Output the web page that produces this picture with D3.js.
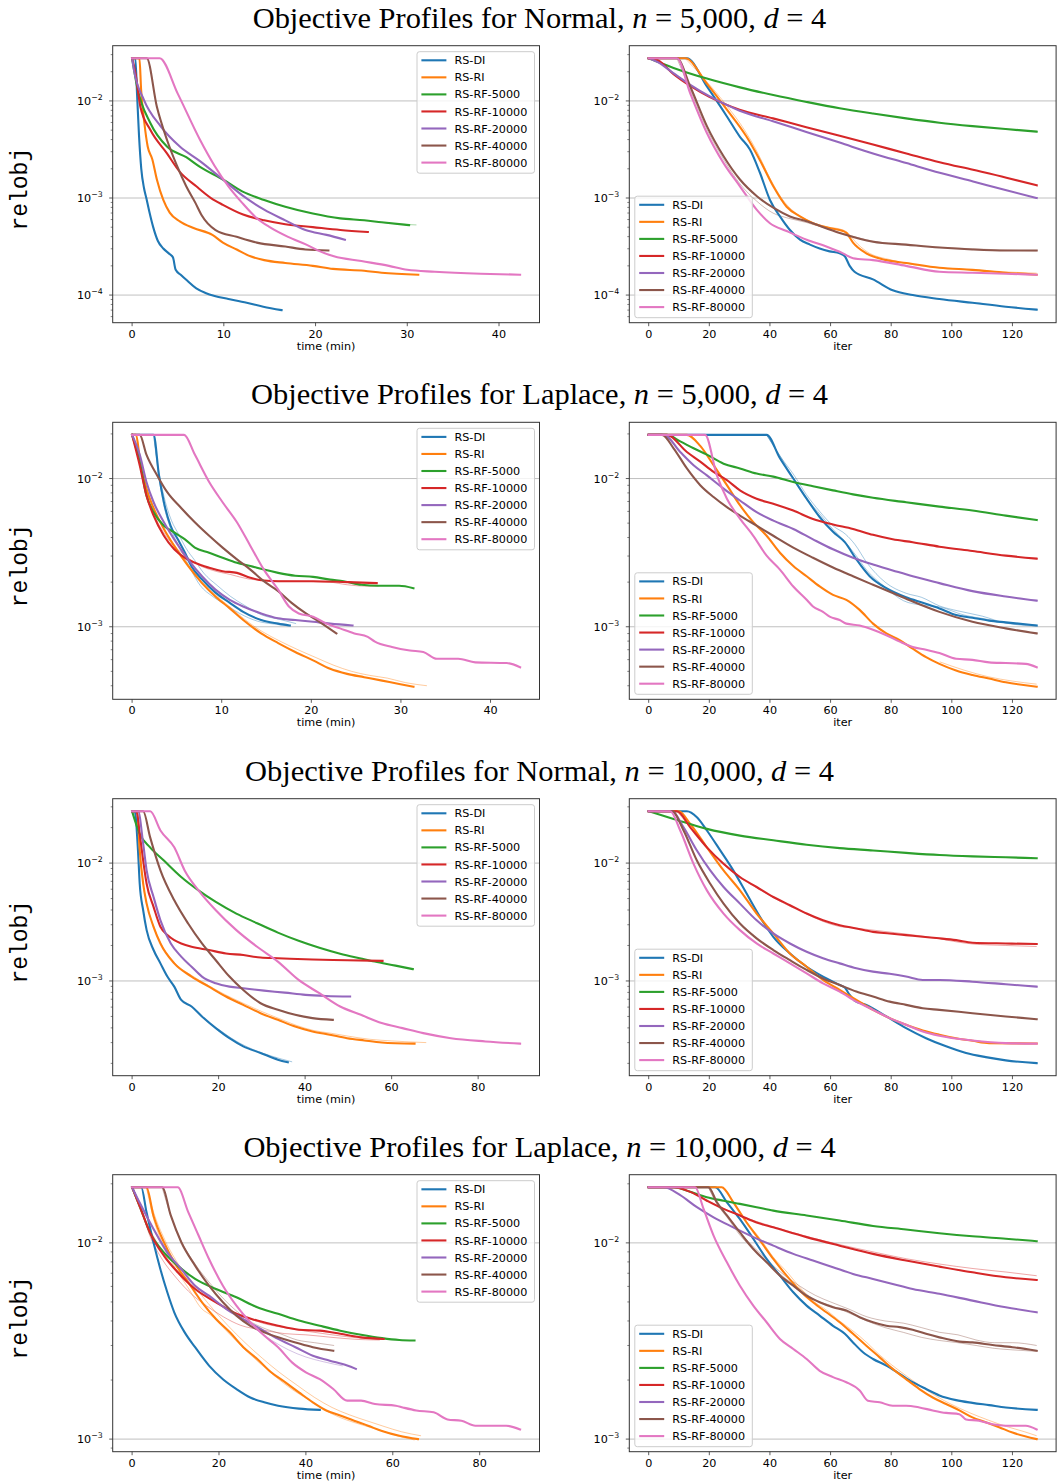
<!DOCTYPE html>
<html>
<head>
<meta charset="utf-8">
<script src="https://cdn.jsdelivr.net/npm/d3@7"></script>
<style>
  body { margin: 0; background: #fff; }
  svg { display: block; }
</style>
</head>
<body>
<svg id="fig" width="1057" height="1484"></svg>
<script>
// ---------------------------------------------------------------------------
// Series, labels and ticks
// ---------------------------------------------------------------------------
const seriesNames = ["RS-DI", "RS-RI", "RS-RF-5000", "RS-RF-10000", "RS-RF-20000", "RS-RF-40000", "RS-RF-80000"];
const seriesColors = ["#1f77b4", "#ff7f0e", "#2ca02c", "#d62728", "#9467bd", "#8c564b", "#e377c2"];
const distributions = ["Normal", "Laplace", "Normal", "Laplace"];
const sampleSizes = ["5,000", "5,000", "10,000", "10,000"];
const dimension = "4";
const timeTicks = [[0, 10, 20, 30, 40], [0, 10, 20, 30, 40], [0, 20, 40, 60, 80], [0, 20, 40, 60, 80]];
const iterTicks = [0, 20, 40, 60, 80, 100, 120];

// Each panel: one averaged [x, relobj] list per series, in the order of seriesNames.
// x is wall-clock time in minutes (…Time) or the iteration count (…Iter).

const normal5kTime = [
  [[0,0.0275],[0.35,0.0275],[0.55,0.0112],[0.75,0.00447],[1.0,0.002],[1.3,0.00126],[1.55,0.001],[1.9,0.000708],[2.3,0.000501],[2.8,0.000363],[3.4,0.000302],[4.0,0.000269],[4.45,0.000245],[4.75,0.000182],[5.3,0.000162],[6.0,0.000141],[7.0,0.000117],[8.0,0.000105],[9.0,0.0000977],[10.5,0.0000912],[12.5,0.0000832],[14.3,0.0000759],[16.3,0.00007]],
  [[0,0.0275],[0.8,0.0275],[0.98,0.0132],[1.34,0.00589],[1.7,0.00339],[2.2,0.00251],[2.7,0.00155],[3.4,0.000955],[4.1,0.000708],[5.2,0.000575],[6.7,0.00049],[8.75,0.000417],[9.9,0.000347],[11.4,0.000295],[12.9,0.000251],[14.4,0.000229],[16.7,0.000214],[19.7,0.0002],[21.9,0.000186],[25.3,0.000178],[27.2,0.00017],[31.2,0.000162]],
  [[0,0.0275],[0.54,0.0141],[2.0,0.00589],[3.8,0.00339],[5.9,0.00263],[7.4,0.00209],[9.9,0.00155],[12,0.00117],[14.4,0.000955],[16.7,0.000813],[19.7,0.000692],[22.7,0.000617],[25.3,0.000589],[27.2,0.000562],[30.2,0.000525]],
  [[0,0.0275],[0.36,0.0195],[0.9,0.0087],[2.0,0.00501],[3.8,0.00288],[5.2,0.00186],[7.0,0.00132],[8.6,0.001],[9.9,0.000851],[12.1,0.000676],[14.4,0.000589],[16.7,0.000537],[19.7,0.000501],[22.7,0.000468],[25.7,0.000447]],
  [[0,0.0275],[0.2,0.0209],[1.3,0.0102],[3.1,0.0055],[5.2,0.00339],[7.4,0.0024],[9.9,0.00155],[12.1,0.00105],[14.4,0.000759],[16.7,0.000589],[18.9,0.000468],[21.2,0.000417],[23.2,0.000372]],
  [[0,0.0275],[1.6,0.0275],[2.7,0.0087],[3.8,0.00398],[4.9,0.00214],[5.9,0.00132],[6.9,0.000891],[7.6,0.000661],[9.1,0.000468],[11.4,0.000398],[13.6,0.000347],[16.7,0.000316],[18.9,0.000295],[21.4,0.000288]],
  [[0,0.0275],[3.0,0.0275],[5,0.01175],[7.4,0.00398],[9,0.00214],[10.5,0.00132],[12,0.000891],[13.5,0.000631],[15,0.000501],[17,0.000398],[19,0.000331],[20.5,0.000282],[22,0.000251],[25,0.000224],[28,0.0002],[30,0.000182],[33,0.000174],[38,0.000166],[42.3,0.000162]]
];

const normal5kIter = [
  [[0,0.0275],[12.6,0.0275],[19.2,0.0141],[25.8,0.00692],[30.1,0.00427],[33.4,0.00316],[36.7,0.00182],[40,0.000955],[43.3,0.000646],[46.6,0.000468],[49.9,0.000372],[53.2,0.000331],[56.4,0.000302],[59.7,0.000282],[63,0.000269],[64.7,0.000251],[66.3,0.0002],[67.9,0.000174],[74,0.000145],[80.5,0.000112],[87.1,0.0001],[95.9,0.0000912],[106.8,0.0000832],[117.8,0.0000759],[128,0.0000708]],
  [[0,0.0275],[12,0.0275],[19.2,0.0151],[25.8,0.00813],[32.3,0.00427],[36.7,0.00245],[41.1,0.00132],[45.5,0.000813],[49.9,0.000646],[54.2,0.00055],[59.7,0.00049],[64.1,0.000457],[65.2,0.000437],[67.4,0.000347],[71.8,0.000269],[78.4,0.000229],[85,0.000214],[95.9,0.000191],[106.8,0.000182],[117.8,0.00017],[128,0.000162]],
  [[0,0.0275],[8.2,0.0219],[19.2,0.017],[30.1,0.0138],[41.1,0.0115],[52.1,0.00977],[63,0.00841],[74,0.00741],[84.9,0.00661],[95.9,0.00596],[106.8,0.0055],[117.8,0.00513],[128,0.00483]],
  [[0,0.0275],[3,0.0263],[8,0.0191],[14,0.0141],[20,0.011],[25,0.00933],[30,0.00813],[41,0.00661],[52,0.00537],[63,0.00437],[74,0.00355],[85,0.00288],[96,0.00234],[107,0.00195],[118,0.00162],[128,0.00135]],
  [[0,0.0275],[3,0.0251],[8,0.0195],[14,0.0145],[20,0.0112],[25,0.00933],[30,0.00794],[41,0.00617],[52,0.00479],[63,0.00372],[74,0.00288],[85,0.00229],[96,0.00182],[107,0.00148],[118,0.0012],[128,0.001]],
  [[0,0.0275],[9.3,0.0275],[13.7,0.0141],[19.2,0.0055],[24.7,0.00269],[30.1,0.00155],[35.6,0.00105],[41.1,0.000794],[46.6,0.000646],[52.1,0.000575],[63,0.000437],[74,0.000355],[84.9,0.000331],[95.9,0.000309],[106.8,0.000295],[117.8,0.000288],[128,0.000288]],
  [[0,0.0275],[9.3,0.0275],[13.7,0.012],[19.2,0.00468],[24.7,0.00229],[30.1,0.00132],[35.6,0.000759],[40,0.00055],[45.5,0.000457],[52.1,0.000372],[58.6,0.000316],[64.1,0.000269],[67.4,0.00024],[74,0.000229],[84.9,0.0002],[95.9,0.000174],[106.8,0.00017],[117.8,0.000166],[128,0.000162]]
];

const laplace5kTime = [
  [[0,0.0197],[2.4,0.0197],[3.0,0.0105],[3.55,0.00692],[4.3,0.00479],[5.1,0.00389],[5.9,0.00316],[6.6,0.00257],[7.8,0.00209],[9.3,0.0017],[10.9,0.00145],[12.4,0.00126],[14.4,0.00111],[16.3,0.00105],[17.6,0.00102]],
  [[0,0.0197],[0.45,0.0197],[0.85,0.0137],[1.6,0.00855],[2.4,0.00631],[3.55,0.00457],[4.7,0.00351],[6.25,0.00257],[7.8,0.00197],[9.3,0.0016],[10.9,0.00133],[12.4,0.00111],[14.4,0.000902],[16.3,0.000776],[18.2,0.000676],[20.2,0.000593],[22.1,0.00052],[24,0.000481],[25.9,0.000457],[27.9,0.000433],[29.8,0.000411],[31.4,0.000394]],
  [[0,0.0197],[0.85,0.013],[1.6,0.00769],[2.4,0.00593],[3.55,0.00481],[4.7,0.00433],[5.9,0.00389],[7.0,0.00342],[8.6,0.00316],[10.1,0.00292],[11.7,0.0027],[13.2,0.00257],[14.7,0.00243],[16.3,0.00231],[18.2,0.00221],[20.2,0.00217],[22.1,0.00208],[23.6,0.00203],[25.6,0.00192],[27.5,0.00189],[29.8,0.00189],[31.4,0.00182]],
  [[0,0.0197],[0.85,0.0123],[1.6,0.00769],[2.4,0.00562],[3.55,0.00411],[4.7,0.00333],[5.9,0.00292],[7.0,0.0027],[8.6,0.0025],[10.1,0.00237],[11.7,0.00231],[13.2,0.00214],[14.7,0.00205],[16.3,0.00203],[20.2,0.00203],[24,0.002],[27.3,0.00197]],
  [[0,0.0197],[0.85,0.0145],[1.6,0.00948],[2.4,0.00692],[3.55,0.00507],[4.7,0.00389],[6.25,0.00285],[7.8,0.00219],[9.3,0.00178],[10.9,0.00152],[12.4,0.00137],[14.4,0.00123],[16.3,0.00114],[18.2,0.00111],[20.2,0.00108],[22.1,0.00105],[24.6,0.00102]],
  [[0,0.0197],[0.85,0.0197],[1.6,0.0145],[2.8,0.0105],[3.9,0.00813],[5.5,0.00631],[7.0,0.00507],[8.6,0.00411],[10.1,0.00342],[11.7,0.00285],[13.2,0.00243],[14.7,0.00203],[16.3,0.00174],[17.8,0.00145],[19.4,0.00123],[20.9,0.00108],[22.8,0.000902]],
  [[0,0.0197],[5.8,0.0197],[7.0,0.0145],[8.6,0.00948],[10.1,0.00692],[11.7,0.00507],[13.2,0.00351],[14.7,0.00243],[16.3,0.00178],[17.5,0.00137],[18.6,0.00123],[20.2,0.00117],[21.7,0.00105],[23.2,0.000975],[24.8,0.000902],[26.3,0.000855],[27.1,0.000794],[29,0.000731],[31,0.000692],[32.5,0.000676],[34,0.000608],[36.4,0.000608],[38.3,0.000575],[41.8,0.000569],[43.3,0.000533]]
];

const laplace5kIter = [
  [[0,0.0197],[38.9,0.0197],[43.3,0.0137],[47.7,0.01],[52.1,0.00731],[56.4,0.0055],[60.8,0.00437],[64.7,0.00372],[68.5,0.00285],[72.9,0.00219],[78.4,0.00182],[84.9,0.00158],[90.4,0.00145],[95.9,0.00133],[101.4,0.0012],[106.8,0.00115],[112.3,0.0011],[117.8,0.00107],[128,0.00102]],
  [[0,0.0197],[12.6,0.0197],[17,0.0166],[21.4,0.0123],[25.8,0.00902],[30.1,0.00661],[34.5,0.00507],[38.9,0.00411],[43.3,0.00316],[47.7,0.00257],[52.1,0.00219],[56.4,0.00187],[60.8,0.00164],[65.2,0.00152],[69.6,0.0013],[74,0.00105],[78.4,0.000902],[82.8,0.000813],[87.1,0.000711],[91.5,0.000624],[95.9,0.000562],[101.4,0.000507],[106.8,0.000473],[112.3,0.000447],[117.8,0.000422],[128,0.000394]],
  [[0,0.0197],[6,0.0197],[10.4,0.0178],[14.8,0.016],[19.2,0.0145],[24.7,0.0126],[30.1,0.0117],[35.6,0.0108],[41.1,0.0103],[47.7,0.00948],[54.2,0.00887],[60.8,0.00832],[67.4,0.00782],[74,0.00741],[84.9,0.00692],[95.9,0.00646],[106.8,0.00608],[117.8,0.00562],[128,0.00525]],
  [[0,0.0197],[6,0.0197],[12.6,0.0151],[17,0.013],[21.4,0.0111],[25.8,0.00975],[30.1,0.00832],[35.6,0.00731],[41.1,0.00676],[47.7,0.00608],[54.2,0.00533],[60.8,0.0049],[67.4,0.00457],[74,0.00417],[80.5,0.00389],[87.1,0.00372],[95.9,0.00347],[106.8,0.00324],[117.8,0.00302],[128,0.00288]],
  [[0,0.0197],[5,0.0197],[10.4,0.0151],[14.8,0.0123],[19.2,0.0105],[24.7,0.00855],[30.1,0.00711],[35.6,0.00593],[41.1,0.0052],[47.7,0.00457],[54.2,0.00389],[60.8,0.00333],[67.4,0.00292],[74,0.00263],[80.5,0.0024],[87.1,0.00219],[95.9,0.00197],[106.8,0.00174],[117.8,0.0016],[128,0.0015]],
  [[0,0.0197],[4.4,0.0197],[8.2,0.016],[12.6,0.0117],[17,0.00902],[21.4,0.0075],[25.8,0.00641],[30.1,0.00562],[35.6,0.00481],[41.1,0.00411],[47.7,0.00342],[54.2,0.00292],[60.8,0.00251],[67.4,0.00219],[74,0.00192],[80.5,0.00169],[87.1,0.00148],[95.9,0.00126],[106.8,0.00108],[117.8,0.000975],[128,0.000902]],
  [[0,0.0197],[18.6,0.0197],[22.5,0.0105],[25.8,0.00731],[30.1,0.00537],[34.5,0.00411],[38.9,0.00302],[43.3,0.00243],[47.7,0.00187],[52.1,0.00152],[54.2,0.00137],[57.5,0.00126],[59.7,0.00117],[63,0.00111],[65.2,0.00105],[69.6,0.00102],[74,0.000955],[78.4,0.000877],[82.8,0.000794],[87.1,0.000731],[91.5,0.0007],[95.9,0.000665],[101.4,0.000608],[106.8,0.000598],[112.3,0.000575],[117.8,0.000569],[124.4,0.000562],[128,0.000533]]
];

const normal10kTime = [
  [[0,0.0275],[0.6,0.0275],[1.36,0.0128],[1.76,0.00668],[2.56,0.00398],[3.36,0.0027],[4.96,0.00183],[6.55,0.00141],[8.15,0.00109],[9.75,0.000895],[11.35,0.00069],[13.75,0.000607],[16.15,0.0005],[19.35,0.000398],[22.5,0.000327],[25.7,0.000279],[29.7,0.000245],[33.7,0.000215],[36,0.000204]],
  [[0,0.0275],[1.2,0.0275],[1.76,0.0128],[2.56,0.00668],[3.36,0.00453],[4.96,0.00288],[6.55,0.00208],[9.75,0.00141],[13.75,0.00109],[17.75,0.000895],[21.7,0.000738],[25.7,0.000627],[29.7,0.000533],[33.7,0.000468],[37.7,0.000411],[41.7,0.000373],[45.7,0.00035],[49.7,0.000327],[53.7,0.000313],[57.7,0.000301],[65.3,0.000294]],
  [[0,0.0275],[1.76,0.0177],[4.16,0.0136],[7.35,0.0105],[11.35,0.00762],[15.35,0.00587],[19.35,0.00468],[24.1,0.00373],[28.9,0.00309],[33.7,0.00257],[38.5,0.00219],[43.3,0.00191],[48.1,0.0017],[52.9,0.00155],[56.1,0.00146],[60.9,0.00135],[64.9,0.00126]],
  [[0,0.0275],[1.0,0.0275],[1.76,0.0177],[2.56,0.0105],[3.36,0.00668],[4.96,0.00425],[6.55,0.00288],[8.15,0.00245],[9.75,0.00222],[11.35,0.00208],[13.75,0.00195],[17.75,0.00183],[21.7,0.00171],[25.7,0.00166],[29.7,0.00158],[33.7,0.00156],[41.7,0.00152],[49.7,0.0015],[57.9,0.00148]],
  [[0,0.0275],[1.4,0.0275],[2.56,0.0146],[3.36,0.00867],[4.96,0.00516],[6.55,0.00327],[8.95,0.00208],[11.35,0.00161],[13.75,0.00132],[16.15,0.00109],[19.35,0.000955],[22.5,0.000895],[25.7,0.000867],[30.5,0.000828],[35.3,0.000796],[40.1,0.000762],[44.9,0.000746],[50.4,0.000738]],
  [[0,0.0275],[2.56,0.0275],[4.16,0.0166],[6.55,0.00867],[9.75,0.00483],[12.95,0.00307],[16.15,0.00208],[19.35,0.0015],[22.5,0.00109],[25.7,0.000839],[29.7,0.000647],[33.7,0.000569],[37.7,0.000516],[41.7,0.000484],[46.4,0.000468]],
  [[0,0.0275],[4.2,0.0275],[6.55,0.0189],[9.75,0.0136],[12.15,0.00867],[15.35,0.00587],[19.35,0.00398],[24.1,0.0027],[28.9,0.00195],[33.7,0.00146],[38.5,0.00102],[43.3,0.000787],[48.1,0.000607],[52.9,0.000516],[57.7,0.000439],[62.5,0.000398],[67.3,0.000361],[73.7,0.000327],[81.7,0.000307],[89.7,0.000294]]
];

const normal10kIter = [
  [[0,0.0275],[12.6,0.0275],[15.9,0.0245],[19.2,0.0189],[23.6,0.0128],[27.9,0.00867],[32.3,0.00551],[36.7,0.0035],[41.1,0.00237],[46.6,0.00171],[52.1,0.00132],[57.5,0.00109],[63,0.000925],[64.7,0.000879],[66.3,0.000762],[67.9,0.000682],[71.8,0.000627],[78.4,0.0005],[84.9,0.000398],[91.5,0.000327],[98.1,0.000279],[104.7,0.000245],[111.2,0.000226],[117.8,0.000212],[128,0.000201]],
  [[0,0.0275],[9.9,0.0275],[13.7,0.0215],[19.2,0.0136],[24.7,0.00867],[30.1,0.00587],[35.6,0.00373],[41.1,0.00253],[46.6,0.00171],[52.1,0.00132],[57.5,0.00102],[63,0.000839],[68.5,0.00069],[74,0.000569],[79.5,0.000484],[84.9,0.000425],[90.4,0.00038],[95.9,0.00035],[101.4,0.000327],[106.8,0.000311],[112.3,0.000297],[128,0.000295]],
  [[0,0.0275],[8.2,0.0237],[19.2,0.0195],[30.1,0.0171],[41.1,0.0156],[52.1,0.0143],[63,0.0134],[74,0.0128],[84.9,0.0122],[95.9,0.0117],[106.8,0.0114],[117.8,0.0112],[128,0.011]],
  [[0,0.0275],[9.3,0.0275],[13.7,0.0201],[19.2,0.0136],[24.7,0.00986],[30.1,0.00762],[35.6,0.00627],[41.1,0.00516],[46.6,0.00439],[52.1,0.00373],[57.5,0.00327],[63,0.00297],[68.5,0.00279],[74,0.00261],[79.5,0.00253],[84.9,0.00245],[90.4,0.00237],[95.9,0.0023],[101.4,0.00222],[106.8,0.00211],[117.8,0.00208],[128,0.00206]],
  [[0,0.0275],[7.7,0.0275],[11.5,0.0201],[15.9,0.0128],[20.3,0.00867],[24.7,0.00627],[30.1,0.00453],[35.6,0.00327],[41.1,0.00253],[46.6,0.00208],[52.1,0.00177],[57.5,0.00156],[63,0.00141],[68.5,0.00128],[74,0.0012],[79.5,0.00115],[84.9,0.00109],[90.4,0.00102],[95.9,0.00102],[106.8,0.000986],[117.8,0.000938],[128,0.000895]],
  [[0,0.0275],[7.7,0.0275],[11.5,0.0189],[15.9,0.0105],[20.3,0.00668],[24.7,0.00453],[30.1,0.00307],[35.6,0.0023],[41.1,0.00183],[46.6,0.0015],[52.1,0.00124],[57.5,0.00105],[63,0.000925],[68.5,0.000813],[74,0.000738],[79.5,0.000668],[84.9,0.000627],[90.4,0.000587],[95.9,0.000569],[106.8,0.000533],[117.8,0.0005],[128,0.000474]],
  [[0,0.0275],[7.1,0.0275],[10.4,0.0189],[14.8,0.00986],[19.2,0.00587],[24.7,0.00373],[30.1,0.0027],[35.6,0.00208],[41.1,0.00171],[46.6,0.00141],[52.1,0.00116],[57.5,0.000955],[63,0.000813],[68.5,0.000668],[74,0.000569],[79.5,0.000484],[84.9,0.000425],[90.4,0.000373],[95.9,0.000343],[106.8,0.000313],[117.8,0.000297],[128,0.000294]]
];

const laplace10kTime = [
  [[0,0.0192],[2.1,0.0192],[3.3,0.0144],[4.9,0.0101],[6.5,0.00736],[8.1,0.0056],[9.7,0.00443],[12.1,0.0035],[14.5,0.00294],[17.7,0.00237],[20.9,0.00202],[24,0.0018],[27.2,0.00163],[30.4,0.00154],[33.6,0.00148],[38.4,0.00143],[43.2,0.00141]],
  [[0,0.0192],[3.3,0.0192],[4.9,0.0138],[7.3,0.0101],[9.7,0.00796],[12.9,0.0063],[16.1,0.00498],[19.3,0.00409],[22.5,0.0035],[25.6,0.00294],[28.8,0.00256],[32,0.00219],[35.2,0.00195],[38.4,0.00173],[41.6,0.00154],[44.7,0.0014],[47.9,0.00132],[51.1,0.00124],[54.3,0.00117],[57.5,0.0011],[61.5,0.00104],[65.8,0.001]],
  [[0,0.0192],[1.75,0.0154],[4.1,0.0113],[7.3,0.00895],[10.5,0.00766],[14.5,0.00655],[19.3,0.00582],[24,0.00528],[28.8,0.0047],[33.6,0.00435],[38.4,0.00402],[43.2,0.00378],[47.9,0.00357],[52.7,0.0034],[57.5,0.00327],[61.5,0.0032],[65,0.00318]],
  [[0,0.0192],[1.75,0.0154],[4.1,0.0113],[7.3,0.00861],[10.5,0.00708],[14.5,0.00582],[19.3,0.00498],[24,0.00435],[28.8,0.00402],[33.6,0.00378],[38.4,0.00361],[43.2,0.00357],[47.9,0.00344],[52.7,0.0033],[57.9,0.00324]],
  [[0,0.0192],[1.75,0.016],[4.9,0.0118],[8.1,0.00895],[11.3,0.00736],[14.5,0.00605],[17.7,0.00538],[21.7,0.0046],[25.6,0.00409],[29.6,0.00364],[33.6,0.00324],[37.6,0.00294],[41.6,0.00266],[45.5,0.00251],[49.5,0.00237],[51.5,0.00228]],
  [[0,0.0192],[6.9,0.0192],[8.9,0.0138],[11.3,0.0101],[14.5,0.00766],[17.7,0.00605],[20.9,0.00498],[24,0.00426],[27.2,0.00378],[30.4,0.0035],[33.6,0.0033],[37.6,0.00311],[41.6,0.00294],[46.3,0.00282]],
  [[0,0.0192],[10.5,0.0192],[12.9,0.0144],[15.3,0.0109],[17.7,0.00828],[20.9,0.00605],[24,0.00479],[27.2,0.00394],[30.4,0.00337],[33.6,0.00294],[36.8,0.00246],[40,0.00219],[43.2,0.00202],[46.3,0.0018],[49.5,0.00157],[52.7,0.00157],[55.9,0.00151],[60.7,0.00148],[62.3,0.00145],[65.4,0.0014],[69.4,0.00137],[72.6,0.00126],[75.8,0.00124],[79,0.00117],[86.1,0.00117],[89.3,0.00112]]
];

const laplace10kIter = [
  [[0,0.0192],[21.9,0.0192],[25.8,0.0161],[30.1,0.0132],[34.5,0.0105],[38.9,0.00828],[43.3,0.00681],[47.7,0.0056],[52.1,0.00479],[56.4,0.00426],[60.8,0.00378],[64.7,0.00344],[67.4,0.00311],[70.7,0.00277],[74,0.00256],[78.4,0.00237],[82.8,0.00215],[87.1,0.00195],[91.5,0.0018],[95.9,0.00167],[101.4,0.00158],[106.8,0.00153],[112.3,0.00149],[117.8,0.00145],[128,0.00141]],
  [[0,0.0192],[24.1,0.0192],[27.9,0.0161],[32.3,0.0127],[36.7,0.0103],[41.1,0.00828],[45.5,0.00681],[49.9,0.00571],[54.2,0.00498],[58.6,0.00443],[63,0.00394],[67.4,0.00344],[71.8,0.00299],[76.2,0.00261],[80.5,0.00228],[84.9,0.00202],[89.3,0.0018],[93.7,0.00163],[98.1,0.00151],[102.5,0.0014],[106.8,0.00129],[111.2,0.00122],[115.6,0.00115],[120,0.00108],[128,0.001]],
  [[0,0.0192],[8.2,0.0192],[13.7,0.0182],[19.2,0.0171],[24.7,0.0164],[30.1,0.0158],[35.6,0.0152],[41.1,0.0146],[52.1,0.0138],[63,0.013],[74,0.0122],[84.9,0.0117],[95.9,0.0112],[106.8,0.0108],[117.8,0.0105],[128,0.0102]],
  [[0,0.0192],[8.2,0.0192],[13.7,0.0182],[19.2,0.0164],[24.7,0.0149],[30.1,0.0138],[35.6,0.0127],[41.1,0.012],[52.1,0.0107],[63,0.00968],[74,0.00879],[84.9,0.00813],[95.9,0.00757],[106.8,0.00708],[117.8,0.00668],[128,0.00647]],
  [[0,0.0192],[4.9,0.0192],[10.4,0.0175],[15.9,0.0152],[21.4,0.0135],[27.9,0.012],[34.5,0.0107],[41.1,0.00968],[47.7,0.00879],[54.2,0.00813],[60.8,0.00752],[67.4,0.00695],[74,0.00655],[80.5,0.00618],[87.1,0.00582],[95.9,0.0055],[106.8,0.00508],[117.8,0.0047],[128,0.00443]],
  [[0,0.0192],[19.7,0.0192],[22.5,0.0161],[25.8,0.0138],[30.1,0.0113],[34.5,0.00931],[38.9,0.00796],[43.3,0.00681],[47.7,0.00605],[52.1,0.00538],[56.4,0.00498],[60.8,0.0047],[65.2,0.00452],[69.6,0.00418],[74,0.00394],[78.4,0.00378],[82.8,0.00372],[87.1,0.00361],[91.5,0.00344],[95.9,0.0033],[102.5,0.00314],[106.8,0.00311],[113.4,0.00302],[120,0.00294],[128,0.00282]],
  [[0,0.0192],[15.3,0.0192],[18.1,0.0149],[21.4,0.0109],[25.8,0.00796],[30.1,0.00605],[34.5,0.00479],[38.9,0.00394],[43.3,0.00324],[47.7,0.00288],[52.1,0.00256],[56.4,0.00223],[60.8,0.00207],[65.2,0.00195],[69.6,0.00177],[72.3,0.00157],[76.2,0.00154],[80.5,0.00148],[84.9,0.00148],[89.3,0.00145],[93.7,0.0014],[98.1,0.00136],[102.5,0.00134],[104.7,0.00126],[109,0.00124],[113.4,0.00119],[117.8,0.00117],[124.4,0.00117],[128,0.00112]]
];

// Individual repetitions that stray visibly from their average: [series index, points].
const normal5kTimeRuns = [
  [2, [[27.2,0.000562],[29,0.00054],[31,0.000528]]]
];
const normal5kIterRuns = [
  [1, [[12,0.0275],[19,0.016],[25.8,0.0089],[32,0.0048],[36,0.0029],[40,0.0016],[44,0.00098],[48,0.00072],[52,0.0006],[58,0.00051],[64,0.00047],[66,0.00043],[68,0.00036],[72,0.00028],[80,0.00023],[90,0.0002],[100,0.000188],[110,0.000178],[120,0.000172],[128,0.000168]]],
  [5, [[9.3,0.0275],[13.7,0.013],[19.2,0.0051],[24.7,0.0025],[30.1,0.0014],[35.6,0.00093],[41,0.0007],[46,0.00062],[52,0.00056],[63,0.00044],[74,0.00036],[85,0.00033],[96,0.00031],[107,0.0003],[118,0.00029],[128,0.000285]]]
];
const laplace5kTimeRuns = [
  [0, [[2.4,0.0197],[3,0.011],[3.6,0.0074],[4.4,0.0052],[5.2,0.0042],[6,0.0034],[7,0.0028],[8,0.0023],[9.5,0.0019],[11,0.0016],[12.5,0.0014],[14.5,0.0012],[16.5,0.00112],[18.3,0.00105]]],
  [0, [[2.4,0.0197],[3,0.0102],[3.5,0.0068],[4.3,0.0046],[5,0.0037],[5.8,0.003],[6.6,0.0024],[7.6,0.0019],[9,0.0016],[10.5,0.0014],[12,0.00123],[14,0.00109],[16,0.00104],[17.6,0.00101]]],
  [1, [[0.45,0.0197],[0.9,0.0133],[1.7,0.0083],[2.5,0.0061],[3.6,0.0045],[4.8,0.0035],[6.3,0.0026],[8,0.00195],[9.5,0.0016],[11,0.00135],[12.5,0.00113],[14.5,0.00093],[16.5,0.0008],[18.5,0.0007],[20.5,0.00062],[22.5,0.00055],[24.5,0.0005],[26.5,0.00047],[28.5,0.00045],[30.5,0.00042],[32.9,0.0004]]],
  [3, [[0,0.0197],[0.85,0.0125],[1.6,0.0079],[2.4,0.0058],[3.55,0.0043],[4.7,0.0035],[6,0.003],[7.5,0.0026],[9,0.0024],[11,0.00225],[13,0.0021],[15,0.00205],[18,0.00203],[22,0.002],[24,0.00192],[26,0.00188],[27.5,0.00188]]]
];
const laplace5kIterRuns = [
  [0, [[38.9,0.0197],[43.3,0.0142],[48,0.0105],[52,0.0078],[56.4,0.006],[60.8,0.0048],[65,0.0042],[68,0.0036],[72,0.0027],[78,0.002],[85,0.00168],[90,0.00158],[96,0.00138],[102,0.00128],[110,0.00118],[118,0.00106],[128,0.00103]]],
  [0, [[38.9,0.0197],[44,0.0135],[48,0.0098],[52,0.0074],[57,0.0056],[61,0.0045],[64,0.0039],[68,0.0031],[72,0.0024],[78,0.00185],[84,0.0015],[90,0.0014],[96,0.00136],[104,0.0012],[112,0.00112],[120,0.00104],[128,0.00101]]],
  [1, [[96,0.00058],[104,0.00051],[112,0.00046],[120,0.00043],[128,0.00041]]]
];
const normal10kTimeRuns = [
  [1, [[1.2,0.0275],[1.8,0.0125],[2.6,0.0066],[3.4,0.0045],[5,0.0029],[6.6,0.0021],[9.8,0.00143],[14,0.0011],[18,0.0009],[22,0.00075],[26,0.00064],[30,0.00055],[34,0.00048],[38,0.00042],[42,0.00038],[46,0.00036],[50,0.00034],[55,0.00032],[60,0.00031],[68,0.0003]]],
  [0, [[20,0.00039],[24,0.00031],[28,0.000262],[32,0.000232],[37,0.000206]]]
];
const normal10kIterRuns = [
  [3, [[9.3,0.0275],[14,0.0198],[19.2,0.0134],[24.7,0.0097],[30.1,0.0075],[35.6,0.0062],[41.1,0.0051],[46.6,0.0043],[52.1,0.0037],[57.5,0.0032],[63,0.0029],[68.5,0.0028],[74,0.0027],[79.5,0.0026],[84.9,0.0025],[90.4,0.0024],[95.9,0.00228],[101.4,0.00215],[106.8,0.00206],[117.8,0.002],[128,0.00196]]]
];
const laplace10kTimeRuns = [
  [1, [[3.3,0.0192],[4.9,0.0134],[7.3,0.0096],[9.7,0.0076],[12.9,0.0059],[16.1,0.0046],[18,0.0043],[21,0.0037],[25,0.003],[29,0.00248],[33,0.00208],[37,0.00178],[41,0.00157],[45,0.00138],[49,0.00126],[53,0.00118],[57,0.00111],[61,0.00104],[65,0.00099]]],
  [1, [[3.3,0.0192],[5,0.0142],[7.5,0.0104],[10,0.0082],[13,0.0066],[16,0.0054],[19,0.0045],[22,0.0038],[26,0.0031],[30,0.00258],[34,0.00218],[38,0.00188],[42,0.00163],[46,0.00145],[50,0.00133],[54,0.00124],[58,0.00116],[62,0.00109],[66.5,0.00104]]],
  [3, [[0,0.0192],[2,0.0145],[4,0.0118],[7,0.009],[10,0.0074],[14,0.0062],[18,0.0052],[22,0.0046],[26,0.0042],[30,0.0039],[35,0.0037],[40,0.00355],[46,0.0034],[52,0.00328],[58,0.00322]]],
  [3, [[0,0.0192],[2,0.015],[4,0.011],[7,0.0082],[10,0.0067],[14,0.0054],[17,0.0048],[21,0.0042],[25,0.0038],[30,0.0036],[35,0.00345],[40,0.0034],[46,0.0033],[52,0.00322],[57,0.0032]]],
  [4, [[0,0.0192],[2,0.0158],[5,0.0116],[8,0.0088],[11,0.0072],[15,0.0059],[19,0.0051],[24,0.0043],[28,0.0037],[32,0.0032],[36,0.00285],[40,0.00262],[44,0.00248],[48.5,0.00236]]],
  [5, [[6.9,0.0192],[9,0.0136],[11.5,0.01],[14.5,0.0078],[18,0.0062],[21,0.0052],[24,0.0045],[27,0.004],[30,0.0037],[34,0.00345],[38,0.0032],[42,0.0031],[46.5,0.003]]]
];
const laplace10kIterRuns = [
  [5, [[19.7,0.0192],[22.5,0.016],[26,0.0136],[30,0.0113],[35,0.0094],[40,0.0079],[45,0.0068],[50,0.006],[55,0.0054],[60,0.005],[66,0.0046],[72,0.0042],[78,0.004],[84,0.0039],[90,0.0037],[96,0.0035],[102,0.0034],[108,0.0032],[114,0.0031],[120,0.0031],[128,0.003]]],
  [5, [[19.7,0.0192],[22.5,0.0158],[26,0.0134],[30,0.011],[35,0.0091],[40,0.0077],[45,0.0066],[50,0.0058],[55,0.0051],[60,0.0048],[66,0.0044],[72,0.004],[78,0.0037],[84,0.0035],[90,0.0033],[96,0.00318],[102,0.0031],[108,0.003],[114,0.0029],[120,0.00285],[128,0.0028]]],
  [3, [[8.2,0.0192],[14,0.0182],[20,0.0163],[25,0.0149],[30,0.0138],[41,0.0121],[52,0.0108],[63,0.0098],[74,0.009],[85,0.0083],[96,0.0078],[107,0.0074],[118,0.0071],[128,0.0068]]],
  [1, [[24.1,0.0192],[28,0.0162],[32,0.013],[37,0.0104],[41,0.0085],[46,0.007],[50,0.0059],[54,0.0051],[59,0.0045],[63,0.004],[68,0.0035],[72,0.0031],[76,0.0027],[80,0.0024],[85,0.0021],[90,0.00185],[95,0.00165],[100,0.0015],[106,0.00136],[112,0.00125],[118,0.00116],[124,0.00109],[128,0.00104]]]
];

const timePanels = [normal5kTime, laplace5kTime, normal10kTime, laplace10kTime];
const iterPanels = [normal5kIter, laplace5kIter, normal10kIter, laplace10kIter];
const timeRuns = [normal5kTimeRuns, laplace5kTimeRuns, normal10kTimeRuns, laplace10kTimeRuns];
const iterRuns = [normal5kIterRuns, laplace5kIterRuns, normal10kIterRuns, laplace10kIterRuns];

// ---------------------------------------------------------------------------
// Layout
// ---------------------------------------------------------------------------
const rowTop = [45.7, 422.3, 798.7, 1174.7];
const axW = 426.8, axH = 277;
const colLeft = [112.7, 629.3];
const titleCenterX = 539.5;
const titleWidthRow1 = 574;
const sans = "'DejaVu Sans', sans-serif";
const tickFont = 11.2;
const spineColor = "#333";

const svg = d3.select("#fig");
svg.append("rect").attr("width", 1057).attr("height", 1484).attr("fill", "#fff");

const defs = svg.append("defs");
const line = d3.line().curve(d3.curveMonotoneX);

// Titles: serif text with italic math symbols; the font size is tuned once
// so the first title has the intended width, then shared by all four.
let titleSize = 25;
const titles = distributions.map((dist, i) => {
  const t = svg.append("text")
    .attr("x", titleCenterX).attr("y", rowTop[i] - 18)
    .attr("text-anchor", "middle")
    .style("font-family", "'Liberation Serif', 'DejaVu Serif', serif")
    .style("font-size", titleSize + "px")
    .attr("fill", "#000");
  t.append("tspan").text(`Objective Profiles for ${dist}, `);
  t.append("tspan").style("font-style", "italic").text("n");
  t.append("tspan").text(` = ${sampleSizes[i]}, `);
  t.append("tspan").style("font-style", "italic").text("d");
  t.append("tspan").text(` = ${dimension}`);
  return t;
});
titleSize = titleSize * titleWidthRow1 / titles[0].node().getComputedTextLength();
titles.forEach(t => t.style("font-size", titleSize + "px"));

function logExtent(panels) {
  const vals = [];
  panels.forEach(p => p.forEach(s => s.forEach(d => vals.push(Math.log10(d[1])))));
  const lo = d3.min(vals), hi = d3.max(vals), pad = 0.05 * (hi - lo);
  return [Math.pow(10, lo - pad), Math.pow(10, hi + pad)];
}

function drawPanel(row, col, series, runs, xTicks, xLabel, yDomain, legendCorner) {
  const g = svg.append("g").attr("transform", `translate(${colLeft[col]},${rowTop[row]})`);
  const xMax = d3.max(series, s => d3.max(s, d => d[0]));
  const x = d3.scaleLinear().domain([-0.05 * xMax, 1.05 * xMax]).range([0, axW]);
  const y = d3.scaleLog().domain(yDomain).range([axH, 0]);

  const clipId = `clip-${row}-${col}`;
  defs.append("clipPath").attr("id", clipId)
    .append("rect").attr("width", axW).attr("height", axH);

  // decade grid lines
  const kLo = Math.floor(Math.log10(yDomain[0])), kHi = Math.ceil(Math.log10(yDomain[1]));
  const majors = [], minors = [];
  for (let k = kLo; k <= kHi; k++) {
    const v = Math.pow(10, k);
    if (v >= yDomain[0] && v <= yDomain[1]) majors.push(k);
    for (let m = 2; m <= 9; m++) {
      const mv = m * v;
      if (mv >= yDomain[0] && mv <= yDomain[1]) minors.push(mv);
    }
  }
  g.selectAll(".grid").data(majors).join("line")
    .attr("x1", 0).attr("x2", axW)
    .attr("y1", k => y(Math.pow(10, k))).attr("y2", k => y(Math.pow(10, k)))
    .attr("stroke", "#b0b0b0").attr("stroke-width", 0.8);

  const plot = g.append("g").attr("clip-path", `url(#${clipId})`);

  // faint individual repetitions
  runs.forEach(([si, pts]) => {
    plot.append("path")
      .attr("d", line(pts.map(d => [x(d[0]), y(d[1])])))
      .attr("fill", "none")
      .attr("stroke", seriesColors[si])
      .attr("stroke-opacity", 0.45)
      .attr("stroke-width", 0.9);
  });

  // averaged series
  series.forEach((s, i) => {
    plot.append("path")
      .attr("d", line(s.map(d => [x(d[0]), y(d[1])])))
      .attr("fill", "none")
      .attr("stroke", seriesColors[i])
      .attr("stroke-width", 2.1)
      .attr("stroke-linejoin", "round")
      .attr("stroke-linecap", "square");
  });

  // frame
  g.append("rect").attr("width", axW).attr("height", axH)
    .attr("fill", "none").attr("stroke", spineColor).attr("stroke-width", 1);

  // x axis
  const xa = g.append("g").attr("transform", `translate(0,${axH})`);
  xTicks.forEach(t => {
    xa.append("line").attr("x1", x(t)).attr("x2", x(t)).attr("y1", 0).attr("y2", 3.5)
      .attr("stroke", spineColor).attr("stroke-width", 0.8);
    xa.append("text").attr("x", x(t)).attr("y", 15)
      .attr("text-anchor", "middle").style("font-family", sans).style("font-size", tickFont + "px")
      .text(t);
  });
  xa.append("text").attr("x", axW / 2).attr("y", 27)
    .attr("text-anchor", "middle").style("font-family", sans).style("font-size", tickFont + "px")
    .text(xLabel);

  // y axis (log): major decades with labels, minor ticks in between
  majors.forEach(k => {
    const yy = y(Math.pow(10, k));
    g.append("line").attr("x1", -3.5).attr("x2", 0).attr("y1", yy).attr("y2", yy)
      .attr("stroke", spineColor).attr("stroke-width", 0.8);
    const lab = g.append("text").attr("x", -10).attr("y", yy + 4)
      .attr("text-anchor", "end").style("font-family", sans).style("font-size", tickFont + "px");
    lab.append("tspan").text("10");
    lab.append("tspan").attr("dy", -5).style("font-size", "7.8px").text("\u2212" + Math.abs(k));
  });
  minors.forEach(v => {
    const yy = y(v);
    g.append("line").attr("x1", -2).attr("x2", 0).attr("y1", yy).attr("y2", yy)
      .attr("stroke", spineColor).attr("stroke-width", 0.6);
  });

  // legend
  const lw = 117.5, lh = 121.5, rowGap = 17.05;
  const lx = legendCorner === "upper right" ? axW - 5 - lw : 5.5;
  const ly = legendCorner === "upper right" ? 6 : axH - 5 - lh;
  const lg = g.append("g").attr("transform", `translate(${lx},${ly})`);
  lg.append("rect").attr("width", lw).attr("height", lh).attr("rx", 2.5)
    .attr("fill", "#fff").attr("fill-opacity", 0.8)
    .attr("stroke", "#cccccc").attr("stroke-width", 1);
  seriesNames.forEach((name, i) => {
    const cy = 8.6 + i * rowGap;
    lg.append("line").attr("x1", 4.4).attr("x2", 29.4).attr("y1", cy).attr("y2", cy)
      .attr("stroke", seriesColors[i]).attr("stroke-width", 2.1);
    lg.append("text").attr("x", 37.5).attr("y", cy + 4.1)
      .style("font-family", sans).style("font-size", "11.2px").text(name);
  });
}

rowTop.forEach((top, r) => {
  const yDomain = logExtent([timePanels[r], iterPanels[r]]);
  drawPanel(r, 0, timePanels[r], timeRuns[r], timeTicks[r], "time (min)", yDomain, "upper right");
  drawPanel(r, 1, iterPanels[r], iterRuns[r], iterTicks, "iter", yDomain, "lower left");
  svg.append("text")
    .attr("transform", `translate(21,${top + axH / 2 + 5}) rotate(-90)`)
    .attr("text-anchor", "middle").attr("dominant-baseline", "central")
    .style("font-family", "'Liberation Mono', 'DejaVu Sans Mono', monospace")
    .style("font-size", "23px")
    .text("relobj");
});
</script>
</body>
</html>
